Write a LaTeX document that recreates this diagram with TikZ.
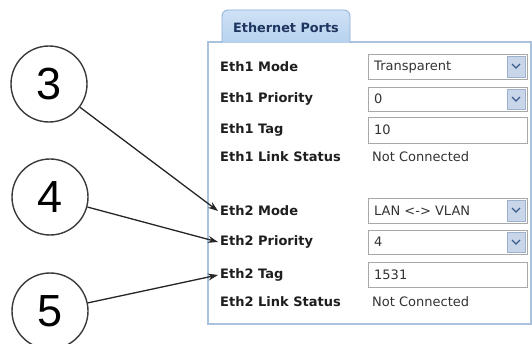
\documentclass[tikz,border=0pt]{standalone}
\usepackage{fontspec}
\setmainfont{DejaVu Sans}
\newfontfamily\numfont{Liberation Sans}
\usetikzlibrary{arrows.meta}
\definecolor{panelborder}{HTML}{A9C2DE}
\definecolor{tabfill}{HTML}{B7D1EE}
\definecolor{tabtop}{HTML}{CFE1F5}
\definecolor{tabborder}{HTML}{8DAFD8}
\definecolor{tabtext}{HTML}{1E3560}
\definecolor{boxborder}{HTML}{A8A8A8}
\definecolor{btnfill}{HTML}{C9D6EA}
\definecolor{btnborder}{HTML}{9DB0CC}
\definecolor{chev}{HTML}{3C5C8E}
\definecolor{labtext}{HTML}{1E1E1E}
\definecolor{valtext}{HTML}{333333}
\definecolor{ringcol}{HTML}{3A3A3A}
\tikzset{
  lab/.style={anchor=west,inner sep=2pt,text=labtext,font=\fontsize{13}{15}\selectfont\bfseries},
  val/.style={anchor=west,inner sep=0pt,text=valtext,font=\fontsize{13}{15}\selectfont},
  fieldbox/.style={draw=boxborder,line width=0.9pt,fill=white},
  btn/.style={draw=btnborder,line width=0.6pt,fill=btnfill},
  ring/.style={circle,draw=ringcol,line width=1.4pt,minimum size=76pt,inner sep=0pt,text=black,font=\numfont\fontsize{45}{48}\selectfont},
  arr/.style={draw=black!85,line width=1.3pt,-{Stealth[length=10pt,width=7pt]}}
}
\begin{document}
\begin{tikzpicture}[x=1pt,y=-1pt]
\useasboundingbox (0,0) rectangle (532,344);
\fill[white] (0,0) rectangle (532,344);
% panel
\draw[panelborder,line width=1.5pt] (208,42) rectangle (531,324);
% tab
\shade[top color=tabtop,bottom color=tabfill,draw=tabborder,line width=0.8pt,rounded corners=6pt]
  (222,43) -- (222,10) -- (350,10) -- (350,43);
\node[anchor=center,inner sep=0pt,text=tabtext,font=\fontsize{12.8}{14}\selectfont\bfseries] (tab) at (286,28) {Ethernet Ports};
% fields
\draw[fieldbox] (368,54) rectangle (527,79);
\draw[btn] (507,56) rectangle (525,77);
\draw[chev,line width=1.2pt] (512,64) -- (516,68) -- (520,64);
\draw[fieldbox] (368,87) rectangle (527,111);
\draw[btn] (507,89) rectangle (525,109);
\draw[chev,line width=1.2pt] (512,97) -- (516,101) -- (520,97);
\draw[fieldbox] (368,117) rectangle (527,143);
\draw[fieldbox] (368,198) rectangle (527,223);
\draw[btn] (507,200) rectangle (525,221);
\draw[chev,line width=1.2pt] (512,208) -- (516,212) -- (520,208);
\draw[fieldbox] (368,230) rectangle (527,254);
\draw[btn] (507,232) rectangle (525,252);
\draw[chev,line width=1.2pt] (512,240) -- (516,244) -- (520,240);
\draw[fieldbox] (368,262) rectangle (527,287);
% labels
\node[lab] (l1) at (218,67) {Eth1 Mode};
\node[lab] (l2) at (218,99) {Eth1 Priority};
\node[lab] (l3) at (218,130) {Eth1 Tag};
\node[lab] (l4) at (218,157) {Eth1 Link Status};
\node[lab] (l5) at (218,211) {Eth2 Mode};
\node[lab] (l6) at (218,242) {Eth2 Priority};
\node[lab] (l7) at (218,275) {Eth2 Tag};
\node[lab] (l8) at (218,302) {Eth2 Link Status};
% values
\node[val] (v1) at (374,67) {Transparent};
\node[val] (v2) at (374,99) {0};
\node[val] (v3) at (374,130) {10};
\node[val] (v4) at (372,157) {Not Connected};
\node[val] (v5) at (374,211) {LAN <-> VLAN};
\node[val] (v6) at (374,242) {4};
\node[val] (v7) at (374,275) {1531};
\node[val] (v8) at (372,302) {Not Connected};
% circles
\node[ring] (c3) at (49,84) {3};
\node[ring] (c4) at (50,197) {4};
\node[ring] (c5) at (50,311) {5};
% arrows
\draw[arr] (c3) -- (l5.west);
\draw[arr] (c4) -- (l6.west);
\draw[arr] (c5) -- (l7.west);
\end{tikzpicture}
\end{document}
